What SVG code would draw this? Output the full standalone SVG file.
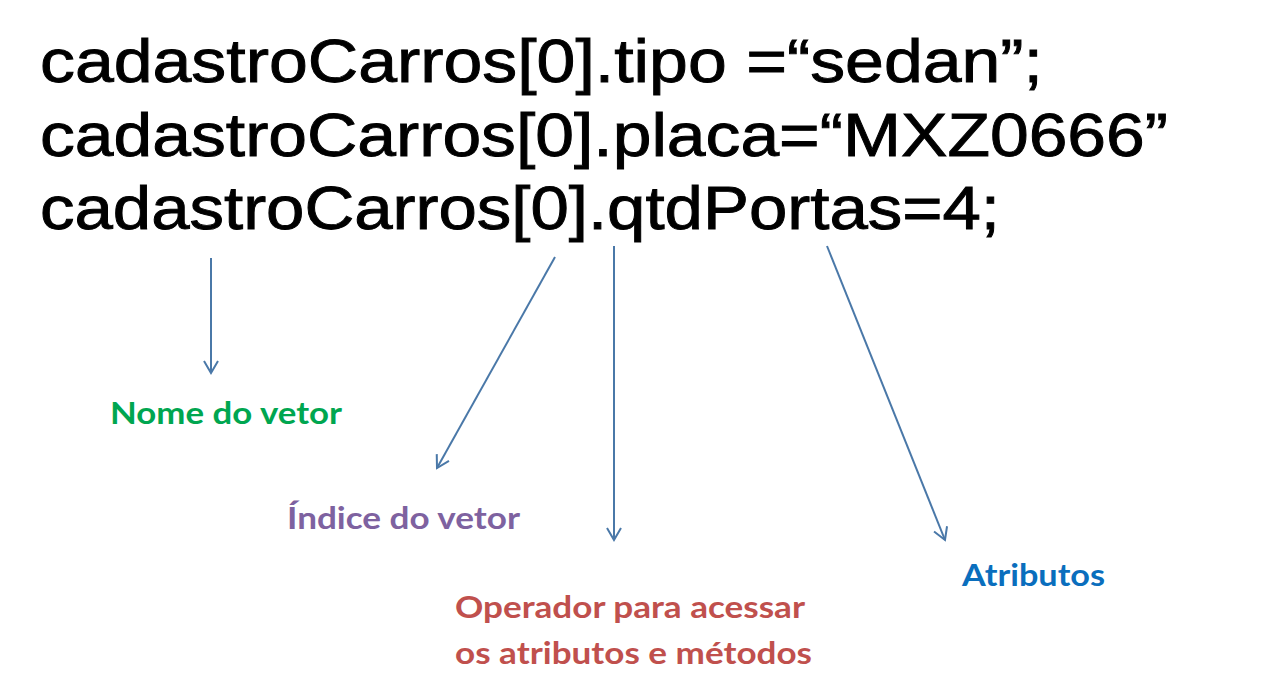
<svg xmlns="http://www.w3.org/2000/svg" width="1287" height="697" viewBox="0 0 1287 697">
<defs>
<style>
.code{font-family:"Liberation Sans","DejaVu Sans",sans-serif;font-size:62px;fill:#000;stroke:#000;stroke-width:0.9}
.lbl{font-family:Lato,"Open Sans",sans-serif;font-weight:bold;font-size:31px}
.conn{stroke:#4A78A8;stroke-width:2;fill:none}
</style>
<marker id="arr" markerWidth="16" markerHeight="16" refX="13" refY="8" orient="auto" markerUnits="userSpaceOnUse">
<path d="M1,1 L13,8 L1,15" fill="none" stroke="#4A78A8" stroke-width="2"/>
</marker>
</defs>
<rect width="1287" height="697" fill="#fff"/>
<g id="code">
<text class="code" x="40" y="82" textLength="1003" lengthAdjust="spacingAndGlyphs">cadastroCarros[0].tipo =“sedan”;</text>
<text class="code" x="40" y="156" textLength="1128" lengthAdjust="spacingAndGlyphs">cadastroCarros[0].placa=“MXZ0666”</text>
<text class="code" x="40" y="229" textLength="960" lengthAdjust="spacingAndGlyphs">cadastroCarros[0].qtdPortas=4;</text>
</g>
<g id="connectors">
<line class="conn" x1="211" y1="258" x2="211" y2="373" marker-end="url(#arr)"/>
<line class="conn" x1="555" y1="257" x2="437" y2="468" marker-end="url(#arr)"/>
<line class="conn" x1="614" y1="246" x2="614" y2="540" marker-end="url(#arr)"/>
<line class="conn" x1="827" y1="246" x2="945" y2="540" marker-end="url(#arr)"/>
</g>
<g id="nome"><text class="lbl" x="110" y="424" fill="#00A650" textLength="232" lengthAdjust="spacingAndGlyphs">Nome do vetor</text></g>
<g id="indice"><text class="lbl" x="287" y="529" fill="#7E62A0" textLength="233" lengthAdjust="spacingAndGlyphs">Índice do vetor</text></g>
<g id="operador">
<text class="lbl" x="455" y="618" fill="#C0504D" textLength="350" lengthAdjust="spacingAndGlyphs">Operador para acessar</text>
<text class="lbl" x="455" y="664" fill="#C0504D" textLength="357" lengthAdjust="spacingAndGlyphs">os atributos e métodos</text>
</g>
<g id="atributos"><text class="lbl" x="962" y="586" fill="#0A6EBD" textLength="143" lengthAdjust="spacingAndGlyphs">Atributos</text></g>
</svg>
